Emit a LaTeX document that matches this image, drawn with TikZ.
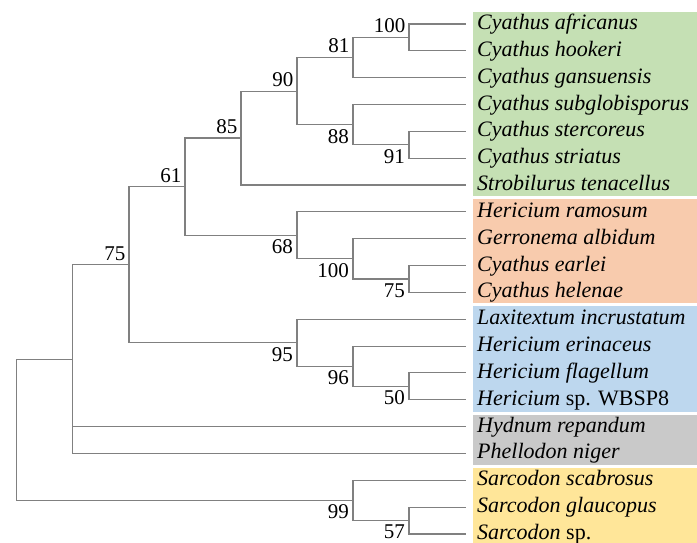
\documentclass[tikz,border=0pt]{standalone}
\usepackage{fontspec}
\setmainfont{Liberation Serif}
\definecolor{cgreen}{HTML}{C5E0B4}
\definecolor{corange}{HTML}{F8CBAD}
\definecolor{cblue}{HTML}{BDD7EE}
\definecolor{cgray}{HTML}{C9C9C9}
\definecolor{cyellow}{HTML}{FFE699}
\definecolor{branch}{HTML}{808080}
\begin{document}
\begin{tikzpicture}[x=1pt,y=-1pt,
  br/.style={draw=branch,line width=1.1pt},
  taxon/.style={anchor=base west,inner sep=0pt,font=\fontsize{22}{26}\selectfont},
  bsup/.style={anchor=base east,inner sep=0pt,font=\fontsize{21}{25}\selectfont}]
\useasboundingbox (0,0) rectangle (697,543);
% clade boxes
\fill[cgreen]  (473.3,11.7) rectangle (697,196.2);
\fill[corange] (473.3,199.3) rectangle (697,303.3);
\fill[cblue]   (473.3,306) rectangle (697,412.3);
\fill[cgray]   (473.3,415) rectangle (697,465);
\fill[cyellow] (473.3,467.7) rectangle (697,543);
% leaves
\foreach \i/\name in {0/{\textit{Cyathus africanus}},1/{\textit{Cyathus hookeri}},2/{\textit{Cyathus gansuensis}},3/{\textit{Cyathus subglobisporus}},4/{\textit{Cyathus stercoreus}},5/{\textit{Cyathus striatus}},6/{\textit{Strobilurus tenacellus}},7/{\textit{Hericium ramosum}},8/{\textit{Gerronema albidum}},9/{\textit{Cyathus earlei}},10/{\textit{Cyathus helenae}},11/{\textit{Laxitextum incrustatum}},12/{\textit{Hericium erinaceus}},13/{\textit{Hericium flagellum}},14/{\textit{Hericium} sp. WBSP8},15/{\textit{Hydnum repandum}},16/{\textit{Phellodon niger}},17/{\textit{Sarcodon scabrosus}},18/{\textit{Sarcodon glaucopus}},19/{\textit{Sarcodon} sp.}}{
  \coordinate (l\i) at (466,{24+26.84*\i});
  \node[taxon] (t\i) at (477,{24+26.84*\i+5.5}) {\name};
}
% internal nodes
\coordinate (n100a) at (409,37.4);
\coordinate (n81) at (353,57.5);
\coordinate (n91) at (409,144.8);
\coordinate (n88) at (353,124.7);
\coordinate (n90) at (297,91.1);
\coordinate (n85) at (241,138.0);
\coordinate (n75b) at (409,279.0);
\coordinate (n100b) at (353,258.9);
\coordinate (n68) at (297,235.4);
\coordinate (n61) at (185,186.7);
\coordinate (n50) at (409,386.4);
\coordinate (n96) at (353,366.3);
\coordinate (n95) at (297,342.8);
\coordinate (n75) at (129,264.8);
\coordinate (nA) at (72.7,359.1);
\coordinate (n57) at (409,520.6);
\coordinate (n99) at (353,500.4);
\coordinate (root) at (16.7,429.8);
% branches
\path[br] (n100a) |- (l0) (n100a) |- (l1);
\path[br] (n81) |- (n100a) (n81) |- (l2);
\path[br] (n91) |- (l4) (n91) |- (l5);
\path[br] (n88) |- (l3) (n88) |- (n91);
\path[br] (n90) |- (n81) (n90) |- (n88);
\path[br] (n85) |- (n90) (n85) |- (l6);
\path[br] (n75b) |- (l9) (n75b) |- (l10);
\path[br] (n100b) |- (l8) (n100b) |- (n75b);
\path[br] (n68) |- (l7) (n68) |- (n100b);
\path[br] (n61) |- (n85) (n61) |- (n68);
\path[br] (n50) |- (l13) (n50) |- (l14);
\path[br] (n96) |- (l12) (n96) |- (n50);
\path[br] (n95) |- (l11) (n95) |- (n96);
\path[br] (n75) |- (n61) (n75) |- (n95);
\path[br] (nA) |- (n75) (nA) |- (l15) (nA) |- (l16);
\path[br] (n57) |- (l18) (n57) |- (l19);
\path[br] (n99) |- (l17) (n99) |- (n57);
\path[br] (root) |- (nA) (root) |- (n99);
% bootstrap values
\foreach \n/\v in {n100a/100,n81/81,n90/90,n85/85,n61/61,n75/75}{
  \node[bsup] (b\n) at ([xshift=-3.5pt,yshift=4.5pt]\n) {\v};
}
\foreach \n/\v in {n88/88,n91/91,n68/68,n100b/100,n75b/75,n95/95,n96/96,n50/50,n99/99,n57/57}{
  \node[bsup] (b\n) at ([xshift=-4pt,yshift=-18.3pt]\n) {\v};
}
\end{tikzpicture}
\end{document}
